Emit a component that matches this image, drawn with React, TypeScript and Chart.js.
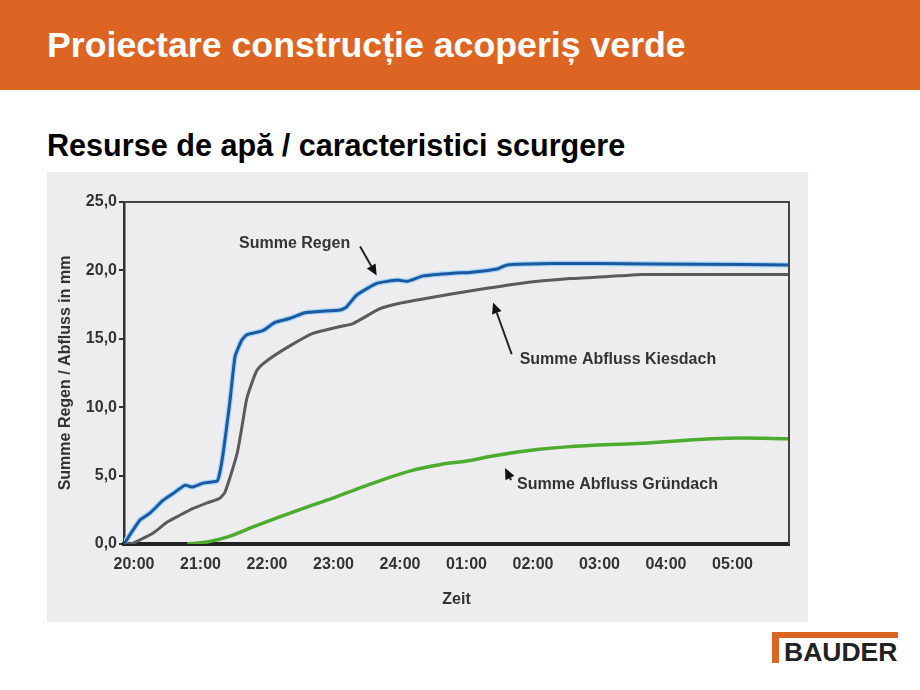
import React, { useEffect, useRef } from "react";
import { Chart, registerables } from "chart.js";

Chart.register(...registerables);

// ---- data (time in hours, 20 = 20:00, 24 = midnight, 29 = 05:00) ----
const REGEN_T = [19.85, 20.09, 20.24, 20.44, 20.59, 20.77, 20.87, 21.04, 21.25, 21.29, 21.34, 21.44, 21.52, 21.62, 21.7, 21.94, 22.12, 22.35, 22.57, 22.8, 23.1, 23.19, 23.35, 23.65, 23.96, 24.11, 24.35, 24.8, 25.05, 25.46, 25.61, 26.26, 27.01, 28.51, 29.85];
const REGEN_V = [0, 1.75, 2.26, 3.2, 3.7, 4.3, 4.16, 4.45, 4.6, 5.2, 6.6, 10.3, 13.7, 14.9, 15.3, 15.6, 16.2, 16.5, 16.9, 17.0, 17.1, 17.3, 18.2, 19.05, 19.3, 19.2, 19.6, 19.8, 19.85, 20.1, 20.4, 20.5, 20.5, 20.45, 20.4];

const KIES_T = [19.85, 19.95, 20.09, 20.29, 20.5, 20.69, 20.89, 21.1, 21.29, 21.37, 21.55, 21.64, 21.7, 21.85, 22.0, 22.35, 22.69, 23.1, 23.29, 23.7, 24.0, 24.45, 25.05, 25.8, 26.56, 27.31, 27.65, 29.85];
const KIES_V = [0, 0, 0.3, 0.8, 1.6, 2.1, 2.6, 3.0, 3.35, 3.8, 6.6, 9.05, 10.7, 12.7, 13.4, 14.5, 15.4, 15.9, 16.1, 17.2, 17.6, 18.0, 18.5, 19.05, 19.4, 19.6, 19.7, 19.7];

const GRUEN_T = [20.8, 21.1, 21.4, 21.79, 22.2, 22.6, 22.99, 23.4, 23.8, 24.2, 24.6, 25.05, 25.35, 26.06, 26.51, 27.56, 29.11, 29.85];
const GRUEN_V = [0, 0.15, 0.5, 1.25, 2.0, 2.7, 3.35, 4.1, 4.8, 5.4, 5.8, 6.1, 6.4, 6.9, 7.1, 7.35, 7.75, 7.7];

const X_TICKS = [20, 21, 22, 23, 24, 25, 26, 27, 28, 29];
const X_TICK_LABELS = ["20:00", "21:00", "22:00", "23:00", "24:00", "01:00", "02:00", "03:00", "04:00", "05:00"];
const Y_TICKS = [0, 5, 10, 15, 20, 25];

const SERIES_NAMES = ["Summe Regen", "Summe Abfluss Kiesdach", "Summe Abfluss Gründach"];

// annotations: label position & arrow in data coordinates
const NOTES = [
  { text: SERIES_NAMES[0], tx: 21.58, ty: 21.97, ax0: 23.4, ay0: 21.75, ax1: 23.65, ay1: 19.63 },
  { text: SERIES_NAMES[1], tx: 25.8, ty: 13.5, ax0: 25.68, ay0: 13.87, ax1: 25.4, ay1: 17.66 },
  { text: SERIES_NAMES[2], tx: 25.76, ty: 4.31, ax0: 25.67, ay0: 4.67, ax1: 25.58, ay1: 5.55 },
];

const zip = (t: number[], v: number[]) => t.map((x, i) => ({ x, y: v[i] }));

const FONT = '"Liberation Sans", Arial, Helvetica, sans-serif';
const ORANGE = "#dd6523";

const framePlugin = {
  id: "frameAndNotes",
  afterDraw(chart: any) {
    const { ctx, chartArea, scales } = chart;
    const { top, right, bottom, left } = chartArea;
    ctx.save();
    ctx.strokeStyle = "#444";
    ctx.lineWidth = 2;
    ctx.beginPath();
    ctx.moveTo(left, top);
    ctx.lineTo(right, top);
    ctx.lineTo(right, bottom);
    ctx.stroke();

    const xs = scales.x;
    const ys = scales.y;
    ctx.font = `bold 16px ${FONT}`;
    ctx.textAlign = "left";
    ctx.textBaseline = "middle";
    for (const n of NOTES) {
      ctx.fillStyle = "#333";
      ctx.fillText(n.text, xs.getPixelForValue(n.tx), ys.getPixelForValue(n.ty));
      const x0 = xs.getPixelForValue(n.ax0);
      const y0 = ys.getPixelForValue(n.ay0);
      const x1 = xs.getPixelForValue(n.ax1);
      const y1 = ys.getPixelForValue(n.ay1);
      const ang = Math.atan2(y1 - y0, x1 - x0);
      const hl = 11;
      const hw = 5;
      const bx = x1 - hl * Math.cos(ang);
      const by = y1 - hl * Math.sin(ang);
      ctx.strokeStyle = "#222";
      ctx.lineWidth = 2;
      ctx.beginPath();
      ctx.moveTo(x0, y0);
      ctx.lineTo(bx, by);
      ctx.stroke();
      ctx.fillStyle = "#111";
      ctx.beginPath();
      ctx.moveTo(x1, y1);
      ctx.lineTo(bx + hw * Math.sin(ang), by - hw * Math.cos(ang));
      ctx.lineTo(bx - hw * Math.sin(ang), by + hw * Math.cos(ang));
      ctx.closePath();
      ctx.fill();
    }
    ctx.restore();
  },
};

function RunoffChart() {
  const ref = useRef<HTMLCanvasElement | null>(null);
  useEffect(() => {
    if (!ref.current) return;
    const chart = new Chart(ref.current, {
      type: "line",
      data: {
        datasets: [
          {
            label: SERIES_NAMES[0],
            data: zip(REGEN_T, REGEN_V),
            borderColor: "#1d58a3",
            borderWidth: 3,
            pointRadius: 0,
            tension: 0.15,
            order: 0,
          },
          {
            label: SERIES_NAMES[1],
            data: zip(KIES_T, KIES_V),
            borderColor: "#5b5b5d",
            borderWidth: 3,
            pointRadius: 0,
            tension: 0.2,
            order: 0,
          },
          {
            label: SERIES_NAMES[2],
            data: zip(GRUEN_T, GRUEN_V),
            borderColor: "#4dab2f",
            borderWidth: 3.5,
            pointRadius: 0,
            cubicInterpolationMode: "monotone",
            order: 0,
          },
          {
            label: SERIES_NAMES[0] + " halo",
            data: zip(REGEN_T, REGEN_V),
            borderColor: "#a8d8f4",
            borderWidth: 5.5,
            pointRadius: 0,
            tension: 0.15,
            order: 5,
          },
        ],
      },
      options: {
        animation: false,
        responsive: true,
        maintainAspectRatio: false,
        layout: { padding: { top: 30, right: 19, left: 0, bottom: 0 } },
        plugins: { legend: { display: false }, tooltip: { enabled: false } },
        scales: {
          x: {
            type: "linear",
            min: 19.85,
            max: 29.85,
            afterBuildTicks: (s: any) => {
              s.ticks = X_TICKS.map((v) => ({ value: v }));
            },
            afterFit: (s: any) => {
              s.height = 78;
            },
            grid: { display: false, drawTicks: false },
            border: { display: true, color: "#222", width: 4, dash: [2, 2] },
            ticks: {
              padding: 11,
              color: "#333",
              font: { family: FONT, size: 16, weight: "bold" },
              callback: (v: any) => {
                const i = X_TICKS.indexOf(Number(v));
                return i >= 0 ? X_TICK_LABELS[i] : "";
              },
              maxRotation: 0,
              autoSkip: false,
            },
            title: {
              display: true,
              text: "Zeit",
              color: "#333",
              font: { family: FONT, size: 16, weight: "bold" },
              padding: { top: 0, bottom: 13 },
            },
          },
          y: {
            min: 0,
            max: 25,
            afterBuildTicks: (s: any) => {
              s.ticks = Y_TICKS.map((v) => ({ value: v }));
            },
            afterFit: (s: any) => {
              s.width = 77;
            },
            grid: { display: true, drawOnChartArea: false, drawTicks: true, tickLength: 5, color: "#333", lineWidth: 2 },
            border: { display: true, color: "#333", width: 2.5 },
            ticks: {
              padding: 2,
              color: "#333",
              font: { family: FONT, size: 16, weight: "bold" },
              callback: (v: any) => Number(v).toFixed(1).replace(".", ","),
            },
            title: {
              display: true,
              text: "Summe Regen / Abfluss in mm",
              color: "#333",
              font: { family: FONT, size: 16, weight: "bold" },
              padding: { top: 9, bottom: 0 },
            },
          },
        },
      },
      plugins: [framePlugin],
    } as any);
    return () => chart.destroy();
  }, []);
  return (
    <div style={{ position: "absolute", left: 47, top: 172, width: 761, height: 450, background: "#ededef" }}>
      <canvas ref={ref} />
    </div>
  );
}

export default function App() {
  return (
    <div style={{ position: "absolute", left: 0, top: 0, width: 920, height: 690, background: "#fff", overflow: "hidden", fontFamily: FONT }}>
      <div style={{ position: "absolute", left: 0, top: 0, width: 920, height: 90, background: ORANGE }} />
      <div style={{ position: "absolute", left: 47, top: 27, fontSize: 35.7, lineHeight: "36px", fontWeight: "bold", color: "#fff", whiteSpace: "nowrap" }}>
        Proiectare construcție acoperiș verde
      </div>
      <div style={{ position: "absolute", left: 47, top: 130, fontSize: 30.6, lineHeight: "31px", fontWeight: "bold", color: "#000", whiteSpace: "nowrap" }}>
        Resurse de apă / caracteristici scurgere
      </div>
      <RunoffChart />
      <div style={{ position: "absolute", left: 772, top: 632, width: 126, height: 6, background: ORANGE }} />
      <div style={{ position: "absolute", left: 772, top: 632, width: 7, height: 31, background: ORANGE }} />
      <div style={{ position: "absolute", left: 784, top: 639, fontSize: 26.5, lineHeight: "27px", fontWeight: "bold", color: "#222", whiteSpace: "nowrap" }}>
        BAUDER
      </div>
    </div>
  );
}
